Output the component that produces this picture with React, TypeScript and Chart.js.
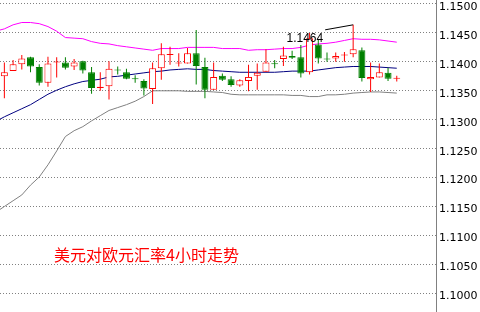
import React, { useEffect, useRef } from 'react';
import { Chart, registerables } from 'chart.js';

Chart.register(...registerables);

// 4-hour candles (index 0..45)
const opens = [
  1.1375, 1.1384, 1.1396, 1.1408, 1.1391, 1.1364, 1.1399, 1.1399, 1.1392, 1.1401,
  1.1382, 1.1355, 1.1358, 1.1386, 1.1382, 1.1371, 1.1367, 1.1353, 1.1389, 1.1412,
  1.1397, 1.1397, 1.1415, 1.1391, 1.1352, 1.1376, 1.1370, 1.1359, 1.1367, 1.1376,
  1.1383, 1.1397, 1.1405, 1.1410, 1.1408, 1.1382, 1.1430, 1.1406, 1.1406, 1.1411,
  1.1413, 1.1420, 1.1370, 1.1373, 1.1381, 1.1371,
];
const highs = [
  1.1399, 1.1403, 1.1412, 1.1409, 1.1396, 1.1409, 1.1408, 1.1408, 1.1405, 1.1402,
  1.1391, 1.1382, 1.1401, 1.1392, 1.1388, 1.1377, 1.1370, 1.1399, 1.1432, 1.1426,
  1.1415, 1.1424, 1.1455, 1.1407, 1.1399, 1.1380, 1.1375, 1.1370, 1.1395, 1.1397,
  1.1422, 1.1403, 1.1426, 1.1419, 1.1429, 1.1450, 1.1438, 1.1416, 1.1416, 1.1417,
  1.1464, 1.1425, 1.1399, 1.1397, 1.1390, 1.1376,
];
const lows = [
  1.1337, 1.1384, 1.1387, 1.1382, 1.1359, 1.1357, 1.1373, 1.1387, 1.1386, 1.1380,
  1.1345, 1.1350, 1.1335, 1.1378, 1.1370, 1.1364, 1.1342, 1.1327, 1.1369, 1.1395,
  1.1392, 1.1397, 1.1361, 1.1337, 1.1352, 1.1367, 1.1357, 1.1357, 1.1349, 1.1352,
  1.1383, 1.1389, 1.1393, 1.1405, 1.1373, 1.1378, 1.1397, 1.1400, 1.1400, 1.1400,
  1.1408, 1.1366, 1.1348, 1.1373, 1.1367, 1.1366,
];
const closes = [
  1.1382, 1.1396, 1.1406, 1.1392, 1.1364, 1.1397, 1.1400, 1.1390, 1.1399, 1.1385,
  1.1355, 1.1357, 1.1388, 1.1385, 1.1371, 1.1370, 1.1354, 1.1389, 1.1413, 1.1413,
  1.1398, 1.1415, 1.1393, 1.1352, 1.1374, 1.1369, 1.1360, 1.1368, 1.1374, 1.1381,
  1.1399, 1.1396, 1.1411, 1.1407, 1.1380, 1.1441, 1.1406, 1.1404, 1.1410, 1.1412,
  1.1422, 1.1372, 1.1374, 1.1382, 1.1371, 1.1372,
];

// Bollinger bands: first value is at the left edge, then one value per candle
const upperBand = [
  1.1455,
  1.1457, 1.1464, 1.1468, 1.1468, 1.1466, 1.1461, 1.1453, 1.1442, 1.1441, 1.1440,
  1.1435, 1.1432, 1.1431, 1.1428, 1.1426, 1.1424, 1.1422, 1.1420, 1.1423, 1.1423,
  1.1423, 1.1425, 1.1425, 1.1425, 1.1425, 1.1423, 1.1423, 1.1423, 1.1420, 1.1421,
  1.1421, 1.1422, 1.1423, 1.1423, 1.1425, 1.1429, 1.1431, 1.1432, 1.1434, 1.1437,
  1.1440, 1.1439, 1.1439, 1.1438, 1.1436, 1.1434,
];
const middleBand = [
  1.1301,
  1.1305, 1.1312, 1.1319, 1.1326, 1.1335, 1.1344, 1.1351, 1.1357, 1.1362, 1.1366,
  1.1368, 1.1370, 1.1374, 1.1375, 1.1377, 1.1379, 1.1381, 1.1383, 1.1384, 1.1386,
  1.1387, 1.1388, 1.1387, 1.1387, 1.1385, 1.1384, 1.1383, 1.1382, 1.1382, 1.1382,
  1.1382, 1.1382, 1.1383, 1.1384, 1.1384, 1.1384, 1.1386, 1.1388, 1.1390, 1.1391,
  1.1392, 1.1392, 1.1392, 1.1391, 1.1390, 1.1389,
];
const lowerBand = [
  1.1145,
  1.1150, 1.1160, 1.1170, 1.1187, 1.1201, 1.1222, 1.1246, 1.1271, 1.1281, 1.1288,
  1.1298, 1.1307, 1.1316, 1.1321, 1.1326, 1.1332, 1.1340, 1.1350, 1.1350, 1.1350,
  1.1350, 1.1349, 1.1349, 1.1349, 1.1348, 1.1347, 1.1344, 1.1343, 1.1343, 1.1343,
  1.1343, 1.1343, 1.1343, 1.1342, 1.1342, 1.1340, 1.1340, 1.1343, 1.1343, 1.1344,
  1.1346, 1.1347, 1.1348, 1.1348, 1.1347, 1.1346,
];

const yTickValues = [
  1.1, 1.105, 1.11, 1.115, 1.12, 1.125, 1.13, 1.135, 1.14, 1.145, 1.15,
];
const chartTitle = '美元对欧元汇率4小时走势';

const UP_COLOR = '#ff0000';
const DOWN_COLOR = '#008000';

export default function App() {
  const canvasRef = useRef<HTMLCanvasElement | null>(null);

  useEffect(() => {
    document.body.style.margin = '0';
    const canvas = canvasRef.current;
    if (!canvas) return;

    const idx = opens.map((_, i) => i);
    const isUp = (i: number) => closes[i] >= opens[i];
    const bandX = (k: number) => (k === 0 ? -0.5 : k - 1);
    const peakIndex = highs.indexOf(Math.max(...highs));

    const bandLine = (vals: number[], color: string) => ({
      type: 'line' as const,
      data: vals.map((v, k) => ({ x: bandX(k), y: v })),
      borderColor: color,
      borderWidth: 1,
      pointRadius: 0,
      tension: 0,
      fill: false,
      order: 2,
    });

    const overlayPlugin = {
      id: 'overlay',
      afterDatasetsDraw(chart: any) {
        const { ctx, scales, chartArea } = chart;
        const xs = scales.x;
        const ys = scales.y;
        const xh = xs.getPixelForValue(peakIndex);
        const yh = ys.getPixelForValue(highs[peakIndex]);
        ctx.save();
        ctx.strokeStyle = '#000000';
        ctx.lineWidth = 1;
        ctx.beginPath();
        ctx.moveTo(xh - 28, yh + 5);
        ctx.lineTo(xh, yh);
        ctx.stroke();
        ctx.font = '12px "Liberation Sans", Arial, sans-serif';
        ctx.fillStyle = '#000000';
        ctx.textAlign = 'right';
        ctx.textBaseline = 'alphabetic';
        ctx.fillText(highs[peakIndex].toFixed(4), xh - 30, yh + 17);

        ctx.font = '16px "Noto Sans CJK SC", sans-serif';
        ctx.fillStyle = '#ff0000';
        ctx.textAlign = 'left';
        ctx.textBaseline = 'middle';
        ctx.fillText(chartTitle, chartArea.left + 54, 254.5);
        ctx.restore();
      },
    };

    const chart = new Chart(canvas, {
      type: 'bar',
      data: {
        datasets: [
          {
            type: 'bar',
            data: idx.map((i) => ({ x: i, y: [opens[i], closes[i]] })) as any,
            backgroundColor: (c: any) => (isUp(c.dataIndex) ? '#ffffff' : DOWN_COLOR),
            borderColor: (c: any) => (isUp(c.dataIndex) ? UP_COLOR : DOWN_COLOR),
            borderWidth: 1,
            borderSkipped: false,
            barThickness: 7,
            minBarLength: 1,
            grouped: false,
            inflateAmount: 0,
            order: 0,
          } as any,
          {
            type: 'bar',
            data: idx.map((i) => ({ x: i, y: [lows[i], highs[i]] })) as any,
            backgroundColor: (c: any) => (isUp(c.dataIndex) ? UP_COLOR : DOWN_COLOR),
            borderWidth: 0,
            barThickness: 1,
            grouped: false,
            inflateAmount: 0,
            order: 1,
          } as any,
          bandLine(upperBand, '#ff00ff') as any,
          bandLine(middleBand, '#000080') as any,
          bandLine(lowerBand, '#808080') as any,
        ],
      },
      options: {
        responsive: false,
        maintainAspectRatio: false,
        animation: false,
        devicePixelRatio: 1,
        events: [],
        layout: { padding: 0 },
        plugins: {
          legend: { display: false },
          tooltip: { enabled: false },
        },
        scales: {
          x: {
            type: 'linear',
            display: false,
            min: -0.5,
            max: 49.5,
            offset: false,
            grid: { display: false },
          },
          y: {
            type: 'linear',
            position: 'right',
            min: 1.09677,
            max: 1.15069,
            beginAtZero: false,
            afterBuildTicks: (s: any) => {
              s.ticks = yTickValues.map((v) => ({ value: v }));
            },
            afterFit: (s: any) => {
              s.width = 44;
              s.paddingTop = 0;
              s.paddingBottom = 0;
            },
            ticks: {
              autoSkip: false,
              color: '#000000',
              padding: 3,
              labelOffset: 3,
              font: { family: '"DejaVu Sans", Verdana, sans-serif', size: 11 },
              callback: (v: any) => Number(v).toFixed(4),
            },
            grid: {
              color: '#808080',
              lineWidth: 1,
              drawTicks: false,
            },
            border: {
              display: true,
              color: '#808080',
              width: 1,
              dash: [1, 2],
            },
          } as any,
        },
      } as any,
      plugins: [overlayPlugin],
    });

    return () => {
      chart.destroy();
    };
  }, []);

  return (
    <div style={{ position: 'absolute', left: 0, top: 0, width: 480, height: 312, background: '#ffffff' }}>
      <canvas ref={canvasRef} width={480} height={312} style={{ display: 'block' }} />
    </div>
  );
}
